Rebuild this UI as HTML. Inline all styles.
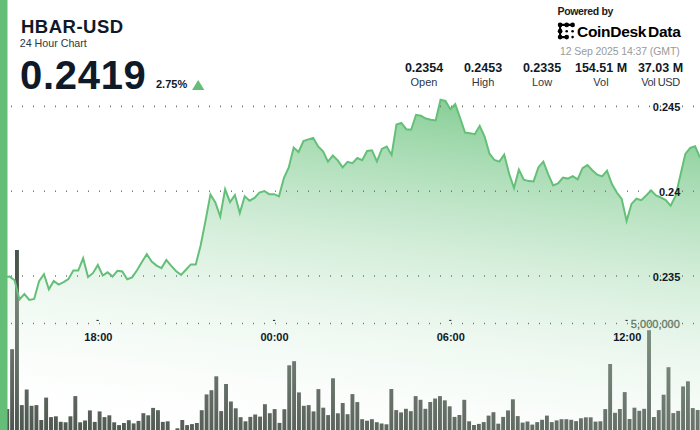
<!DOCTYPE html>
<html><head><meta charset="utf-8">
<style>
html,body{margin:0;padding:0;}
body{width:700px;height:430px;overflow:hidden;background:#fff;position:relative;font-family:"Liberation Sans",sans-serif;color:#0f1928;}
svg{position:absolute;left:0;top:0;}
.t{position:absolute;white-space:nowrap;line-height:1;}
.stat{position:absolute;text-align:center;width:70px;white-space:nowrap;line-height:1;}
.sv{font-weight:bold;font-size:12.5px;}
.sl{font-size:11px;color:#2e3744;}
</style></head><body>
<svg width="700" height="430" viewBox="0 0 700 430">
<defs>
<linearGradient id="g" gradientUnits="userSpaceOnUse" x1="436" y1="43.9" x2="385.7" y2="477.6">
<stop offset="0.000" stop-color="rgb(100,192,120)" stop-opacity="1.000"/>
<stop offset="0.050" stop-color="rgb(108,195,127)" stop-opacity="0.950"/>
<stop offset="0.100" stop-color="rgb(116,198,134)" stop-opacity="0.900"/>
<stop offset="0.150" stop-color="rgb(123,201,140)" stop-opacity="0.850"/>
<stop offset="0.200" stop-color="rgb(131,205,147)" stop-opacity="0.800"/>
<stop offset="0.250" stop-color="rgb(139,208,154)" stop-opacity="0.750"/>
<stop offset="0.300" stop-color="rgb(146,211,160)" stop-opacity="0.700"/>
<stop offset="0.350" stop-color="rgb(154,214,167)" stop-opacity="0.650"/>
<stop offset="0.400" stop-color="rgb(162,217,174)" stop-opacity="0.600"/>
<stop offset="0.450" stop-color="rgb(170,220,181)" stop-opacity="0.550"/>
<stop offset="0.500" stop-color="rgb(178,224,188)" stop-opacity="0.500"/>
<stop offset="0.550" stop-color="rgb(185,227,194)" stop-opacity="0.450"/>
<stop offset="0.600" stop-color="rgb(193,230,201)" stop-opacity="0.400"/>
<stop offset="0.650" stop-color="rgb(201,233,208)" stop-opacity="0.350"/>
<stop offset="0.700" stop-color="rgb(208,236,214)" stop-opacity="0.300"/>
<stop offset="0.750" stop-color="rgb(216,239,221)" stop-opacity="0.250"/>
<stop offset="0.800" stop-color="rgb(224,242,228)" stop-opacity="0.200"/>
<stop offset="0.850" stop-color="rgb(232,246,235)" stop-opacity="0.150"/>
<stop offset="0.900" stop-color="rgb(240,249,242)" stop-opacity="0.100"/>
<stop offset="0.950" stop-color="rgb(247,252,248)" stop-opacity="0.050"/>
<stop offset="1.000" stop-color="rgb(255,255,255)" stop-opacity="0.000"/>
</linearGradient>
</defs>
<text x="679.8" y="328.2" text-anchor="end" font-family="Liberation Sans" font-size="11" fill="#262c28" stroke="#262c28" stroke-width="0.35">5,000,000</text>
<g fill="#4b544d">
<rect x="5.29" y="409.00" width="3.9" height="22.00"/>
<rect x="10.15" y="349.20" width="3.9" height="81.80"/>
<rect x="15.01" y="250.00" width="3.9" height="181.00"/>
<rect x="19.87" y="405.10" width="3.9" height="25.90"/>
<rect x="24.74" y="389.50" width="3.9" height="41.50"/>
<rect x="29.60" y="405.80" width="3.9" height="25.20"/>
<rect x="34.46" y="405.10" width="3.9" height="25.90"/>
<rect x="39.32" y="420.00" width="3.9" height="11.00"/>
<rect x="44.18" y="397.60" width="3.9" height="33.40"/>
<rect x="49.05" y="417.10" width="3.9" height="13.90"/>
<rect x="53.91" y="416.30" width="3.9" height="14.70"/>
<rect x="58.77" y="421.80" width="3.9" height="9.20"/>
<rect x="63.63" y="422.30" width="3.9" height="8.70"/>
<rect x="68.49" y="416.30" width="3.9" height="14.70"/>
<rect x="73.36" y="396.10" width="3.9" height="34.90"/>
<rect x="78.22" y="422.30" width="3.9" height="8.70"/>
<rect x="83.08" y="420.50" width="3.9" height="10.50"/>
<rect x="87.94" y="410.40" width="3.9" height="20.60"/>
<rect x="92.80" y="421.90" width="3.9" height="9.10"/>
<rect x="97.67" y="411.40" width="3.9" height="19.60"/>
<rect x="102.53" y="417.10" width="3.9" height="13.90"/>
<rect x="107.39" y="415.30" width="3.9" height="15.70"/>
<rect x="112.25" y="422.30" width="3.9" height="8.70"/>
<rect x="117.11" y="425.10" width="3.9" height="5.90"/>
<rect x="121.98" y="423.00" width="3.9" height="8.00"/>
<rect x="126.84" y="420.20" width="3.9" height="10.80"/>
<rect x="131.70" y="423.40" width="3.9" height="7.60"/>
<rect x="136.56" y="420.90" width="3.9" height="10.10"/>
<rect x="141.42" y="413.20" width="3.9" height="17.80"/>
<rect x="146.29" y="415.30" width="3.9" height="15.70"/>
<rect x="151.15" y="407.90" width="3.9" height="23.10"/>
<rect x="156.01" y="410.20" width="3.9" height="20.80"/>
<rect x="160.87" y="421.90" width="3.9" height="9.10"/>
<rect x="165.73" y="421.30" width="3.9" height="9.70"/>
<rect x="175.46" y="428.30" width="3.9" height="2.70"/>
<rect x="180.32" y="420.00" width="3.9" height="11.00"/>
<rect x="185.18" y="425.10" width="3.9" height="5.90"/>
<rect x="190.04" y="424.10" width="3.9" height="6.90"/>
<rect x="194.91" y="423.00" width="3.9" height="8.00"/>
<rect x="199.77" y="410.20" width="3.9" height="20.80"/>
<rect x="204.63" y="394.40" width="3.9" height="36.60"/>
<rect x="209.49" y="390.20" width="3.9" height="40.80"/>
<rect x="214.35" y="376.30" width="3.9" height="54.70"/>
<rect x="219.22" y="411.10" width="3.9" height="19.90"/>
<rect x="224.08" y="384.00" width="3.9" height="47.00"/>
<rect x="228.94" y="401.50" width="3.9" height="29.50"/>
<rect x="233.80" y="408.30" width="3.9" height="22.70"/>
<rect x="238.66" y="417.20" width="3.9" height="13.80"/>
<rect x="243.53" y="421.30" width="3.9" height="9.70"/>
<rect x="248.39" y="416.90" width="3.9" height="14.10"/>
<rect x="253.25" y="414.50" width="3.9" height="16.50"/>
<rect x="258.11" y="416.60" width="3.9" height="14.40"/>
<rect x="262.97" y="404.20" width="3.9" height="26.80"/>
<rect x="267.84" y="413.20" width="3.9" height="17.80"/>
<rect x="272.70" y="409.10" width="3.9" height="21.90"/>
<rect x="277.56" y="422.90" width="3.9" height="8.10"/>
<rect x="282.42" y="409.20" width="3.9" height="21.80"/>
<rect x="287.28" y="365.30" width="3.9" height="65.70"/>
<rect x="292.15" y="361.20" width="3.9" height="69.80"/>
<rect x="297.01" y="392.40" width="3.9" height="38.60"/>
<rect x="301.87" y="405.80" width="3.9" height="25.20"/>
<rect x="306.73" y="405.10" width="3.9" height="25.90"/>
<rect x="311.59" y="411.40" width="3.9" height="19.60"/>
<rect x="316.46" y="389.10" width="3.9" height="41.90"/>
<rect x="321.32" y="407.70" width="3.9" height="23.30"/>
<rect x="326.18" y="415.10" width="3.9" height="15.90"/>
<rect x="331.04" y="378.30" width="3.9" height="52.70"/>
<rect x="335.90" y="413.30" width="3.9" height="17.70"/>
<rect x="340.77" y="403.00" width="3.9" height="28.00"/>
<rect x="345.63" y="414.20" width="3.9" height="16.80"/>
<rect x="350.49" y="394.10" width="3.9" height="36.90"/>
<rect x="355.35" y="402.10" width="3.9" height="28.90"/>
<rect x="360.21" y="419.20" width="3.9" height="11.80"/>
<rect x="365.08" y="420.70" width="3.9" height="10.30"/>
<rect x="369.94" y="419.20" width="3.9" height="11.80"/>
<rect x="374.80" y="422.20" width="3.9" height="8.80"/>
<rect x="379.66" y="423.50" width="3.9" height="7.50"/>
<rect x="384.52" y="424.30" width="3.9" height="6.70"/>
<rect x="389.39" y="389.00" width="3.9" height="42.00"/>
<rect x="394.25" y="410.10" width="3.9" height="20.90"/>
<rect x="399.11" y="412.40" width="3.9" height="18.60"/>
<rect x="403.97" y="408.80" width="3.9" height="22.20"/>
<rect x="408.83" y="411.20" width="3.9" height="19.80"/>
<rect x="413.70" y="396.10" width="3.9" height="34.90"/>
<rect x="418.56" y="399.80" width="3.9" height="31.20"/>
<rect x="423.42" y="408.80" width="3.9" height="22.20"/>
<rect x="428.28" y="402.00" width="3.9" height="29.00"/>
<rect x="433.14" y="398.50" width="3.9" height="32.50"/>
<rect x="438.01" y="396.10" width="3.9" height="34.90"/>
<rect x="442.87" y="400.30" width="3.9" height="30.70"/>
<rect x="447.73" y="406.30" width="3.9" height="24.70"/>
<rect x="452.59" y="416.90" width="3.9" height="14.10"/>
<rect x="457.45" y="415.00" width="3.9" height="16.00"/>
<rect x="462.32" y="399.80" width="3.9" height="31.20"/>
<rect x="467.18" y="421.30" width="3.9" height="9.70"/>
<rect x="472.04" y="425.00" width="3.9" height="6.00"/>
<rect x="476.90" y="423.90" width="3.9" height="7.10"/>
<rect x="481.76" y="422.10" width="3.9" height="8.90"/>
<rect x="486.63" y="415.60" width="3.9" height="15.40"/>
<rect x="491.49" y="412.20" width="3.9" height="18.80"/>
<rect x="496.35" y="423.70" width="3.9" height="7.30"/>
<rect x="501.21" y="416.90" width="3.9" height="14.10"/>
<rect x="506.07" y="410.40" width="3.9" height="20.60"/>
<rect x="510.94" y="399.30" width="3.9" height="31.70"/>
<rect x="515.80" y="416.10" width="3.9" height="14.90"/>
<rect x="520.66" y="422.60" width="3.9" height="8.40"/>
<rect x="525.52" y="421.50" width="3.9" height="9.50"/>
<rect x="530.38" y="424.60" width="3.9" height="6.40"/>
<rect x="535.25" y="422.10" width="3.9" height="8.90"/>
<rect x="540.11" y="419.80" width="3.9" height="11.20"/>
<rect x="544.97" y="415.60" width="3.9" height="15.40"/>
<rect x="549.83" y="422.10" width="3.9" height="8.90"/>
<rect x="554.69" y="420.40" width="3.9" height="10.60"/>
<rect x="559.56" y="419.20" width="3.9" height="11.80"/>
<rect x="564.42" y="419.20" width="3.9" height="11.80"/>
<rect x="569.28" y="419.80" width="3.9" height="11.20"/>
<rect x="574.14" y="421.10" width="3.9" height="9.90"/>
<rect x="579.00" y="418.30" width="3.9" height="12.70"/>
<rect x="583.87" y="417.30" width="3.9" height="13.70"/>
<rect x="588.73" y="417.30" width="3.9" height="13.70"/>
<rect x="593.59" y="421.60" width="3.9" height="9.40"/>
<rect x="598.45" y="421.30" width="3.9" height="9.70"/>
<rect x="603.31" y="409.10" width="3.9" height="21.90"/>
<rect x="608.18" y="364.00" width="3.9" height="67.00"/>
<rect x="613.04" y="412.80" width="3.9" height="18.20"/>
<rect x="617.90" y="409.00" width="3.9" height="22.00"/>
<rect x="622.76" y="392.10" width="3.9" height="38.90"/>
<rect x="627.62" y="419.00" width="3.9" height="12.00"/>
<rect x="632.49" y="407.70" width="3.9" height="23.30"/>
<rect x="637.35" y="410.80" width="3.9" height="20.20"/>
<rect x="642.21" y="408.80" width="3.9" height="22.20"/>
<rect x="647.07" y="330.20" width="3.9" height="100.80"/>
<rect x="651.93" y="417.00" width="3.9" height="14.00"/>
<rect x="656.80" y="410.10" width="3.9" height="20.90"/>
<rect x="661.66" y="394.70" width="3.9" height="36.30"/>
<rect x="666.52" y="367.20" width="3.9" height="63.80"/>
<rect x="671.38" y="413.10" width="3.9" height="17.90"/>
<rect x="676.24" y="410.90" width="3.9" height="20.10"/>
<rect x="681.11" y="386.40" width="3.9" height="44.60"/>
<rect x="685.97" y="381.30" width="3.9" height="49.70"/>
<rect x="690.83" y="408.10" width="3.9" height="22.90"/>
<rect x="695.69" y="410.00" width="3.9" height="21.00"/>
</g>
<path d="M-1.00,277.00 L4.80,277.00 L9.70,276.60 L14.60,280.30 L19.49,299.40 L24.39,294.00 L29.28,299.90 L34.18,298.90 L39.08,281.30 L43.97,274.30 L48.87,289.30 L53.76,281.00 L58.66,284.60 L63.56,282.10 L68.45,279.00 L73.35,270.60 L78.24,270.60 L83.14,258.30 L88.04,277.10 L92.93,273.20 L97.83,265.00 L102.72,275.50 L107.62,272.30 L112.52,276.60 L117.41,270.80 L122.31,271.40 L127.20,279.30 L132.10,277.40 L137.00,270.20 L141.89,262.00 L146.79,254.20 L151.68,261.50 L156.58,265.60 L161.48,268.10 L166.37,260.00 L171.27,265.80 L176.16,271.20 L181.06,274.90 L185.96,269.70 L190.85,264.40 L195.75,264.40 L200.64,245.50 L205.54,220.60 L210.44,194.40 L215.33,202.50 L220.23,216.50 L225.12,189.30 L230.02,202.10 L234.92,195.10 L239.81,213.10 L244.71,196.30 L249.60,200.70 L254.50,198.00 L259.40,192.60 L264.29,191.00 L269.19,194.20 L274.08,194.20 L278.98,196.30 L283.88,178.00 L288.77,167.40 L293.67,147.60 L298.56,152.00 L303.46,141.00 L308.36,139.40 L313.25,137.90 L318.15,146.50 L323.04,151.40 L327.94,161.60 L332.84,155.60 L337.73,160.40 L342.63,167.40 L347.52,161.80 L352.42,163.20 L357.32,158.00 L362.21,160.10 L367.11,151.00 L372.00,150.30 L376.90,161.50 L381.80,148.90 L386.69,146.60 L391.59,154.90 L396.48,124.50 L401.38,122.90 L406.28,129.20 L411.17,129.70 L416.07,114.80 L420.96,115.80 L425.86,118.60 L430.76,119.70 L435.65,120.40 L440.55,99.80 L445.44,100.90 L450.34,109.20 L455.24,104.20 L460.13,118.00 L465.03,132.50 L469.92,133.20 L474.82,134.20 L479.72,125.80 L484.61,136.50 L489.51,153.70 L494.40,160.00 L499.30,161.60 L504.20,154.60 L509.09,173.50 L513.99,188.10 L518.88,169.60 L523.78,179.70 L528.68,181.10 L533.57,181.40 L538.47,167.20 L543.36,161.60 L548.26,174.30 L553.16,185.50 L558.05,183.50 L562.95,177.60 L567.84,178.60 L572.74,176.20 L577.64,179.30 L582.53,168.10 L587.43,165.10 L592.32,170.20 L597.22,174.70 L602.12,176.40 L607.01,170.60 L611.91,184.10 L616.80,192.50 L621.70,199.00 L626.60,221.00 L631.49,203.90 L636.39,198.70 L641.28,200.20 L646.18,195.50 L651.08,190.50 L655.97,195.50 L660.87,197.50 L665.76,200.00 L670.66,205.80 L675.56,196.00 L680.45,175.00 L685.35,154.00 L690.24,147.80 L695.14,146.30 L700.04,157.70 L700.04,431 L-1,431 Z" fill="url(#g)"/>
<path d="M11,105.6h1v1.6h-1zM22,105.6h1v1.6h-1zM33,105.6h1v1.6h-1zM44,105.6h1v1.6h-1zM55,105.6h1v1.6h-1zM66,105.6h1v1.6h-1zM77,105.6h1v1.6h-1zM88,105.6h1v1.6h-1zM99,105.6h1v1.6h-1zM110,105.6h1v1.6h-1zM121,105.6h1v1.6h-1zM132,105.6h1v1.6h-1zM143,105.6h1v1.6h-1zM154,105.6h1v1.6h-1zM165,105.6h1v1.6h-1zM176,105.6h1v1.6h-1zM187,105.6h1v1.6h-1zM198,105.6h1v1.6h-1zM209,105.6h1v1.6h-1zM220,105.6h1v1.6h-1zM231,105.6h1v1.6h-1zM242,105.6h1v1.6h-1zM253,105.6h1v1.6h-1zM264,105.6h1v1.6h-1zM275,105.6h1v1.6h-1zM286,105.6h1v1.6h-1zM297,105.6h1v1.6h-1zM308,105.6h1v1.6h-1zM319,105.6h1v1.6h-1zM330,105.6h1v1.6h-1zM341,105.6h1v1.6h-1zM352,105.6h1v1.6h-1zM363,105.6h1v1.6h-1zM374,105.6h1v1.6h-1zM385,105.6h1v1.6h-1zM396,105.6h1v1.6h-1zM407,105.6h1v1.6h-1zM418,105.6h1v1.6h-1zM429,105.6h1v1.6h-1zM440,105.6h1v1.6h-1zM451,105.6h1v1.6h-1zM462,105.6h1v1.6h-1zM473,105.6h1v1.6h-1zM484,105.6h1v1.6h-1zM495,105.6h1v1.6h-1zM506,105.6h1v1.6h-1zM517,105.6h1v1.6h-1zM528,105.6h1v1.6h-1zM539,105.6h1v1.6h-1zM550,105.6h1v1.6h-1zM561,105.6h1v1.6h-1zM572,105.6h1v1.6h-1zM583,105.6h1v1.6h-1zM594,105.6h1v1.6h-1zM605,105.6h1v1.6h-1zM616,105.6h1v1.6h-1zM627,105.6h1v1.6h-1zM638,105.6h1v1.6h-1zM649,105.6h1v1.6h-1zM660,105.6h1v1.6h-1zM671,105.6h1v1.6h-1zM682,105.6h1v1.6h-1zM693,105.6h1v1.6h-1zM11,190.5h1v1.6h-1zM22,190.5h1v1.6h-1zM33,190.5h1v1.6h-1zM44,190.5h1v1.6h-1zM55,190.5h1v1.6h-1zM66,190.5h1v1.6h-1zM77,190.5h1v1.6h-1zM88,190.5h1v1.6h-1zM99,190.5h1v1.6h-1zM110,190.5h1v1.6h-1zM121,190.5h1v1.6h-1zM132,190.5h1v1.6h-1zM143,190.5h1v1.6h-1zM154,190.5h1v1.6h-1zM165,190.5h1v1.6h-1zM176,190.5h1v1.6h-1zM187,190.5h1v1.6h-1zM198,190.5h1v1.6h-1zM209,190.5h1v1.6h-1zM220,190.5h1v1.6h-1zM231,190.5h1v1.6h-1zM242,190.5h1v1.6h-1zM253,190.5h1v1.6h-1zM264,190.5h1v1.6h-1zM275,190.5h1v1.6h-1zM286,190.5h1v1.6h-1zM297,190.5h1v1.6h-1zM308,190.5h1v1.6h-1zM319,190.5h1v1.6h-1zM330,190.5h1v1.6h-1zM341,190.5h1v1.6h-1zM352,190.5h1v1.6h-1zM363,190.5h1v1.6h-1zM374,190.5h1v1.6h-1zM385,190.5h1v1.6h-1zM396,190.5h1v1.6h-1zM407,190.5h1v1.6h-1zM418,190.5h1v1.6h-1zM429,190.5h1v1.6h-1zM440,190.5h1v1.6h-1zM451,190.5h1v1.6h-1zM462,190.5h1v1.6h-1zM473,190.5h1v1.6h-1zM484,190.5h1v1.6h-1zM495,190.5h1v1.6h-1zM506,190.5h1v1.6h-1zM517,190.5h1v1.6h-1zM528,190.5h1v1.6h-1zM539,190.5h1v1.6h-1zM550,190.5h1v1.6h-1zM561,190.5h1v1.6h-1zM572,190.5h1v1.6h-1zM583,190.5h1v1.6h-1zM594,190.5h1v1.6h-1zM605,190.5h1v1.6h-1zM616,190.5h1v1.6h-1zM627,190.5h1v1.6h-1zM638,190.5h1v1.6h-1zM649,190.5h1v1.6h-1zM660,190.5h1v1.6h-1zM671,190.5h1v1.6h-1zM682,190.5h1v1.6h-1zM693,190.5h1v1.6h-1zM11,275.2h1v1.6h-1zM22,275.2h1v1.6h-1zM33,275.2h1v1.6h-1zM44,275.2h1v1.6h-1zM55,275.2h1v1.6h-1zM66,275.2h1v1.6h-1zM77,275.2h1v1.6h-1zM88,275.2h1v1.6h-1zM99,275.2h1v1.6h-1zM110,275.2h1v1.6h-1zM121,275.2h1v1.6h-1zM132,275.2h1v1.6h-1zM143,275.2h1v1.6h-1zM154,275.2h1v1.6h-1zM165,275.2h1v1.6h-1zM176,275.2h1v1.6h-1zM187,275.2h1v1.6h-1zM198,275.2h1v1.6h-1zM209,275.2h1v1.6h-1zM220,275.2h1v1.6h-1zM231,275.2h1v1.6h-1zM242,275.2h1v1.6h-1zM253,275.2h1v1.6h-1zM264,275.2h1v1.6h-1zM275,275.2h1v1.6h-1zM286,275.2h1v1.6h-1zM297,275.2h1v1.6h-1zM308,275.2h1v1.6h-1zM319,275.2h1v1.6h-1zM330,275.2h1v1.6h-1zM341,275.2h1v1.6h-1zM352,275.2h1v1.6h-1zM363,275.2h1v1.6h-1zM374,275.2h1v1.6h-1zM385,275.2h1v1.6h-1zM396,275.2h1v1.6h-1zM407,275.2h1v1.6h-1zM418,275.2h1v1.6h-1zM429,275.2h1v1.6h-1zM440,275.2h1v1.6h-1zM451,275.2h1v1.6h-1zM462,275.2h1v1.6h-1zM473,275.2h1v1.6h-1zM484,275.2h1v1.6h-1zM495,275.2h1v1.6h-1zM506,275.2h1v1.6h-1zM517,275.2h1v1.6h-1zM528,275.2h1v1.6h-1zM539,275.2h1v1.6h-1zM550,275.2h1v1.6h-1zM561,275.2h1v1.6h-1zM572,275.2h1v1.6h-1zM583,275.2h1v1.6h-1zM594,275.2h1v1.6h-1zM605,275.2h1v1.6h-1zM616,275.2h1v1.6h-1zM627,275.2h1v1.6h-1zM638,275.2h1v1.6h-1zM649,275.2h1v1.6h-1zM660,275.2h1v1.6h-1zM671,275.2h1v1.6h-1zM682,275.2h1v1.6h-1zM693,275.2h1v1.6h-1zM11,322.7h1v1.6h-1zM22,322.7h1v1.6h-1zM33,322.7h1v1.6h-1zM44,322.7h1v1.6h-1zM55,322.7h1v1.6h-1zM66,322.7h1v1.6h-1zM77,322.7h1v1.6h-1zM88,322.7h1v1.6h-1zM99,322.7h1v1.6h-1zM110,322.7h1v1.6h-1zM121,322.7h1v1.6h-1zM132,322.7h1v1.6h-1zM143,322.7h1v1.6h-1zM154,322.7h1v1.6h-1zM165,322.7h1v1.6h-1zM176,322.7h1v1.6h-1zM187,322.7h1v1.6h-1zM198,322.7h1v1.6h-1zM209,322.7h1v1.6h-1zM220,322.7h1v1.6h-1zM231,322.7h1v1.6h-1zM242,322.7h1v1.6h-1zM253,322.7h1v1.6h-1zM264,322.7h1v1.6h-1zM275,322.7h1v1.6h-1zM286,322.7h1v1.6h-1zM297,322.7h1v1.6h-1zM308,322.7h1v1.6h-1zM319,322.7h1v1.6h-1zM330,322.7h1v1.6h-1zM341,322.7h1v1.6h-1zM352,322.7h1v1.6h-1zM363,322.7h1v1.6h-1zM374,322.7h1v1.6h-1zM385,322.7h1v1.6h-1zM396,322.7h1v1.6h-1zM407,322.7h1v1.6h-1zM418,322.7h1v1.6h-1zM429,322.7h1v1.6h-1zM440,322.7h1v1.6h-1zM451,322.7h1v1.6h-1zM462,322.7h1v1.6h-1zM473,322.7h1v1.6h-1zM484,322.7h1v1.6h-1zM495,322.7h1v1.6h-1zM506,322.7h1v1.6h-1zM517,322.7h1v1.6h-1zM528,322.7h1v1.6h-1zM539,322.7h1v1.6h-1zM550,322.7h1v1.6h-1zM561,322.7h1v1.6h-1zM572,322.7h1v1.6h-1zM583,322.7h1v1.6h-1zM594,322.7h1v1.6h-1zM605,322.7h1v1.6h-1zM616,322.7h1v1.6h-1zM627,322.7h1v1.6h-1zM638,322.7h1v1.6h-1zM649,322.7h1v1.6h-1zM660,322.7h1v1.6h-1zM671,322.7h1v1.6h-1zM682,322.7h1v1.6h-1zM693,322.7h1v1.6h-1z" fill="#777"/>
<path d="M-1.00,277.00 L4.80,277.00 L9.70,276.60 L14.60,280.30 L19.49,299.40 L24.39,294.00 L29.28,299.90 L34.18,298.90 L39.08,281.30 L43.97,274.30 L48.87,289.30 L53.76,281.00 L58.66,284.60 L63.56,282.10 L68.45,279.00 L73.35,270.60 L78.24,270.60 L83.14,258.30 L88.04,277.10 L92.93,273.20 L97.83,265.00 L102.72,275.50 L107.62,272.30 L112.52,276.60 L117.41,270.80 L122.31,271.40 L127.20,279.30 L132.10,277.40 L137.00,270.20 L141.89,262.00 L146.79,254.20 L151.68,261.50 L156.58,265.60 L161.48,268.10 L166.37,260.00 L171.27,265.80 L176.16,271.20 L181.06,274.90 L185.96,269.70 L190.85,264.40 L195.75,264.40 L200.64,245.50 L205.54,220.60 L210.44,194.40 L215.33,202.50 L220.23,216.50 L225.12,189.30 L230.02,202.10 L234.92,195.10 L239.81,213.10 L244.71,196.30 L249.60,200.70 L254.50,198.00 L259.40,192.60 L264.29,191.00 L269.19,194.20 L274.08,194.20 L278.98,196.30 L283.88,178.00 L288.77,167.40 L293.67,147.60 L298.56,152.00 L303.46,141.00 L308.36,139.40 L313.25,137.90 L318.15,146.50 L323.04,151.40 L327.94,161.60 L332.84,155.60 L337.73,160.40 L342.63,167.40 L347.52,161.80 L352.42,163.20 L357.32,158.00 L362.21,160.10 L367.11,151.00 L372.00,150.30 L376.90,161.50 L381.80,148.90 L386.69,146.60 L391.59,154.90 L396.48,124.50 L401.38,122.90 L406.28,129.20 L411.17,129.70 L416.07,114.80 L420.96,115.80 L425.86,118.60 L430.76,119.70 L435.65,120.40 L440.55,99.80 L445.44,100.90 L450.34,109.20 L455.24,104.20 L460.13,118.00 L465.03,132.50 L469.92,133.20 L474.82,134.20 L479.72,125.80 L484.61,136.50 L489.51,153.70 L494.40,160.00 L499.30,161.60 L504.20,154.60 L509.09,173.50 L513.99,188.10 L518.88,169.60 L523.78,179.70 L528.68,181.10 L533.57,181.40 L538.47,167.20 L543.36,161.60 L548.26,174.30 L553.16,185.50 L558.05,183.50 L562.95,177.60 L567.84,178.60 L572.74,176.20 L577.64,179.30 L582.53,168.10 L587.43,165.10 L592.32,170.20 L597.22,174.70 L602.12,176.40 L607.01,170.60 L611.91,184.10 L616.80,192.50 L621.70,199.00 L626.60,221.00 L631.49,203.90 L636.39,198.70 L641.28,200.20 L646.18,195.50 L651.08,190.50 L655.97,195.50 L660.87,197.50 L665.76,200.00 L670.66,205.80 L675.56,196.00 L680.45,175.00 L685.35,154.00 L690.24,147.80 L695.14,146.30 L700.04,157.70" fill="none" stroke="#64c078" stroke-width="2" stroke-linejoin="miter" stroke-miterlimit="10"/>
<g fill="#1a2230"><rect x="96.5" y="319.9" width="2.2" height="1"/><rect x="273.0" y="319.9" width="2.2" height="1"/><rect x="449.2" y="319.9" width="2.2" height="1"/><rect x="625.5" y="319.9" width="2.2" height="1"/></g>
<g font-family="Liberation Sans" font-weight="bold" font-size="11" fill="#0f1928" text-anchor="end" >
<text x="680.3" y="110.8">0.245</text>
<text x="680.3" y="195.6">0.24</text>
<text x="680.3" y="280.5">0.235</text>
</g>
<g font-family="Liberation Sans" font-weight="bold" font-size="11" fill="#0f1928" text-anchor="middle">
<text x="98.4" y="341">18:00</text>
<text x="274.5" y="341">00:00</text>
<text x="450.8" y="341">06:00</text>
<text x="627.2" y="341">12:00</text>
</g>
<rect x="0" y="0" width="7.5" height="430" fill="#65be78"/>
<!-- logo -->
<g fill="#000" stroke="#000">
<path d="M560.1,24.9 H572.6 M560.1,24.9 V37.1 H566.7" stroke-width="2.1" fill="none"/>
<g stroke="none">
<circle cx="560.1" cy="24.9" r="2.35"/><circle cx="566.7" cy="24.9" r="2.35"/><circle cx="572.6" cy="24.9" r="2.35"/>
<circle cx="560.1" cy="31.2" r="2.35"/><circle cx="560.1" cy="37.1" r="2.35"/><circle cx="566.7" cy="37.1" r="2.35"/>
<circle cx="566.7" cy="31.2" r="1.3"/><circle cx="572.6" cy="31.2" r="1.3"/><circle cx="572.6" cy="37.1" r="1.3"/>
</g>
</g>
</svg>
<div class="t" style="left:21px;top:17.8px;font-size:18.5px;font-weight:bold;letter-spacing:0.5px;">HBAR-USD</div>
<div class="t" style="left:19.7px;top:38.4px;font-size:10.7px;color:#2e3744;">24 Hour Chart</div>
<div class="t" style="left:20px;top:55px;font-size:40px;font-weight:bold;letter-spacing:0.7px;">0.2419</div>
<div class="t" style="left:156px;top:79px;font-size:11px;font-weight:bold;">2.75%</div>
<svg width="700" height="430" style="pointer-events:none"><path d="M192,90 L198.2,80 L204.4,90 Z" fill="#65be78"/></svg>
<div class="stat" style="left:389px;top:62.2px;"><div class="sv">0.2354</div><div class="sl" style="margin-top:2.8px">Open</div></div>
<div class="stat" style="left:448px;top:62.2px;"><div class="sv">0.2453</div><div class="sl" style="margin-top:2.8px">High</div></div>
<div class="stat" style="left:507px;top:62.2px;"><div class="sv">0.2335</div><div class="sl" style="margin-top:2.8px">Low</div></div>
<div class="stat" style="left:566px;top:62.2px;"><div class="sv">154.51 M</div><div class="sl" style="margin-top:2.8px">Vol</div></div>
<div class="stat" style="left:625.5px;top:62.2px;"><div class="sv">37.03 M</div><div class="sl" style="margin-top:2.8px;letter-spacing:-0.45px;">Vol USD</div></div>
<div class="t" style="left:557.5px;top:6px;font-size:10.5px;font-weight:bold;letter-spacing:-0.35px;color:#1a1a1a;">Powered by</div>
<div class="t" style="left:577px;top:23.5px;font-size:15.5px;font-weight:bold;letter-spacing:-0.3px;color:#000;">CoinDesk<span style="margin-left:2px">Data</span></div>
<div class="t" style="left:560px;top:46px;font-size:10.5px;letter-spacing:-0.1px;color:#9a9a9a;">12 Sep 2025 14:37 (GMT)</div>
</body></html>
